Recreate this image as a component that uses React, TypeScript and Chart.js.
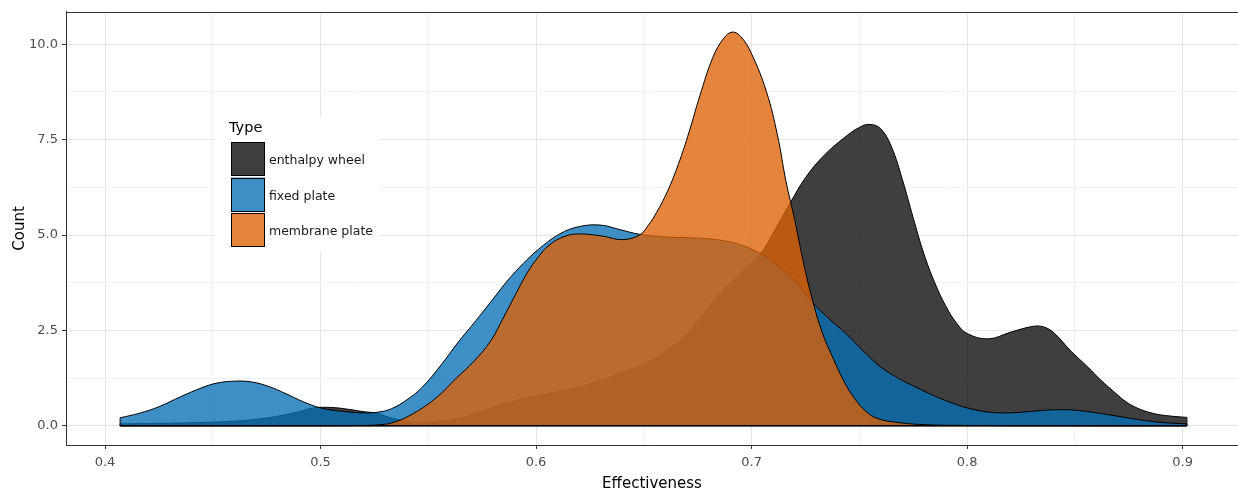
import { useEffect, useRef } from "react";
import { Chart, registerables } from "chart.js";

Chart.register(...registerables);

// Density estimates of effectiveness, one curve per exchanger type
const seriesNames = ["enthalpy wheel", "fixed plate", "membrane plate"];

const enthalpyX = [0.407, 0.42, 0.44, 0.46, 0.47, 0.48, 0.49, 0.497, 0.505, 0.512, 0.52, 0.526, 0.532, 0.54, 0.548, 0.556, 0.565, 0.575, 0.585, 0.595, 0.606, 0.62, 0.63, 0.64, 0.65, 0.66, 0.668, 0.676, 0.685, 0.695, 0.704, 0.71, 0.718, 0.725, 0.733, 0.743, 0.75, 0.755, 0.76, 0.765, 0.77, 0.775, 0.78, 0.785, 0.79, 0.795, 0.8, 0.81, 0.82, 0.83, 0.835, 0.84, 0.848, 0.856, 0.862, 0.868, 0.874, 0.88, 0.886, 0.892, 0.902];
const enthalpyY = [0.05, 0.06, 0.08, 0.12, 0.17, 0.25, 0.37, 0.47, 0.48, 0.44, 0.37, 0.33, 0.22, 0.12, 0.1, 0.13, 0.2, 0.38, 0.58, 0.72, 0.85, 1.02, 1.19, 1.4, 1.62, 1.95, 2.3, 2.8, 3.45, 4.0, 4.5, 5.05, 5.85, 6.5, 7.05, 7.55, 7.82, 7.9, 7.78, 7.3, 6.45, 5.45, 4.5, 3.75, 3.15, 2.7, 2.42, 2.28, 2.45, 2.6, 2.6, 2.45, 1.97, 1.54, 1.2, 0.9, 0.62, 0.44, 0.33, 0.27, 0.22];

const fixedX = [0.407, 0.416, 0.425, 0.435, 0.445, 0.452, 0.46, 0.468, 0.476, 0.484, 0.492, 0.5, 0.51, 0.52, 0.527, 0.533, 0.54, 0.547, 0.556, 0.564, 0.572, 0.58, 0.587, 0.594, 0.601, 0.611, 0.62, 0.63, 0.639, 0.648, 0.66, 0.67, 0.68, 0.69, 0.698, 0.705, 0.712, 0.72, 0.728, 0.736, 0.744, 0.752, 0.76, 0.768, 0.776, 0.785, 0.792, 0.8, 0.81, 0.82, 0.83, 0.84, 0.85, 0.86, 0.87, 0.88, 0.89, 0.902];
const fixedY = [0.21, 0.33, 0.5, 0.76, 1.0, 1.12, 1.17, 1.15, 1.03, 0.84, 0.63, 0.47, 0.38, 0.34, 0.36, 0.45, 0.68, 1.0, 1.6, 2.2, 2.75, 3.32, 3.82, 4.25, 4.62, 5.03, 5.22, 5.26, 5.14, 5.02, 4.95, 4.93, 4.9, 4.82, 4.68, 4.48, 4.2, 3.8, 3.25, 2.8, 2.41, 1.95, 1.54, 1.25, 1.02, 0.78, 0.62, 0.47, 0.36, 0.34, 0.38, 0.42, 0.41, 0.34, 0.25, 0.16, 0.09, 0.05];

const membraneX = [0.407, 0.45, 0.5, 0.52, 0.528, 0.534, 0.543, 0.554, 0.563, 0.571, 0.579, 0.585, 0.591, 0.596, 0.601, 0.606, 0.613, 0.62, 0.631, 0.64, 0.648, 0.652, 0.656, 0.661, 0.666, 0.671, 0.676, 0.682, 0.687, 0.691, 0.695, 0.7, 0.707, 0.712, 0.716, 0.72, 0.724, 0.728, 0.733, 0.738, 0.743, 0.748, 0.753, 0.758, 0.766, 0.78, 0.8, 0.85, 0.902];
const membraneY = [0, 0, 0.003, 0.01, 0.03, 0.09, 0.32, 0.75, 1.25, 1.68, 2.23, 2.85, 3.5, 4.02, 4.42, 4.73, 4.96, 5.03, 4.97, 4.88, 5.0, 5.25, 5.6, 6.15, 6.85, 7.7, 8.65, 9.65, 10.15, 10.32, 10.2, 9.75, 8.74, 7.62, 6.4, 5.4, 4.3, 3.35, 2.41, 1.75, 1.15, 0.7, 0.38, 0.2, 0.1, 0.03, 0.01, 0, 0];

const xMajorTicks = [0.4, 0.5, 0.6, 0.7, 0.8, 0.9];
const xTickLabels = ["0.4", "0.5", "0.6", "0.7", "0.8", "0.9"];
const xMinorTicks = [0.45, 0.55, 0.65, 0.75, 0.85];
const yMajorTicks = [0, 2.5, 5, 7.5, 10];
const yTickLabels = ["0.0", "2.5", "5.0", "7.5", "10.0"];
const yMinorTicks = [1.25, 3.75, 6.25, 8.75];

// Axis limits
const X_MIN = 0.3819;
const X_MAX = 0.9257;
const Y_MIN = -0.503;
const Y_MAX = 10.851;

const FILLS = ["rgba(9,9,9,0.78)", "rgba(6,112,182,0.78)", "rgba(222,97,5,0.78)"];
const FONT = "'DejaVu Sans', 'Liberation Sans', Arial, sans-serif";

const near = (a: number, b: number) => Math.abs(a - b) < 1e-9;
const isMajor = (list: number[], v: number) => list.some((m) => near(m, v));

function gridOptions(major: number[]) {
  return {
    color: (c: any) => (isMajor(major, c.tick?.value) ? "#e6e6e6" : "#f2f2f2"),
    lineWidth: 1,
    tickColor: (c: any) => (isMajor(major, c.tick?.value) ? "#333333" : "rgba(0,0,0,0)"),
    tickLength: 4,
    tickWidth: 1,
  };
}

// Closes each density polygon (baseline and end edges) and draws the top of the panel frame
const outlinePlugin = {
  id: "densityOutline",
  afterDatasetsDraw(chart: any) {
    const { ctx, chartArea, scales } = chart;
    const xs = scales.x;
    const ys = scales.y;
    const zero = ys.getPixelForValue(0);
    ctx.save();
    ctx.strokeStyle = "#000";
    ctx.lineWidth = 1;
    chart.data.datasets.forEach((ds: any) => {
      const pts = ds.data;
      const first = pts[0];
      const last = pts[pts.length - 1];
      ctx.beginPath();
      ctx.moveTo(xs.getPixelForValue(first.x), ys.getPixelForValue(first.y));
      ctx.lineTo(xs.getPixelForValue(first.x), zero);
      ctx.lineTo(xs.getPixelForValue(last.x), zero);
      ctx.lineTo(xs.getPixelForValue(last.x), ys.getPixelForValue(last.y));
      ctx.stroke();
    });
    ctx.strokeStyle = "#333333";
    ctx.beginPath();
    ctx.moveTo(chartArea.left, Math.round(chartArea.top) + 0.5);
    ctx.lineTo(chartArea.right, Math.round(chartArea.top) + 0.5);
    ctx.stroke();
    ctx.restore();
  },
};

// Axis titles and the "Type" legend inside the panel
const labelsPlugin = {
  id: "typeLegend",
  afterDraw(chart: any) {
    const { ctx, chartArea } = chart;
    ctx.save();
    ctx.fillStyle = "#000";
    ctx.font = `15px ${FONT}`;
    ctx.textAlign = "center";
    ctx.textBaseline = "alphabetic";
    ctx.fillText("Effectiveness", (chartArea.left + chartArea.right) / 2, 488);
    ctx.save();
    ctx.translate(24, (chartArea.top + chartArea.bottom) / 2);
    ctx.rotate(-Math.PI / 2);
    ctx.fillText("Count", 0, 0);
    ctx.restore();

    ctx.fillStyle = "#ffffff";
    ctx.fillRect(214, 117, 166, 135);
    ctx.fillStyle = "#000";
    ctx.textAlign = "left";
    ctx.textBaseline = "middle";
    ctx.font = `14.5px ${FONT}`;
    ctx.fillText("Type", 229, 128);
    chart.data.datasets.forEach((ds: any, i: number) => {
      const top = 142 + i * 35.5;
      ctx.fillStyle = ds.backgroundColor;
      ctx.fillRect(231, top, 34, 34);
      ctx.strokeStyle = "#000";
      ctx.lineWidth = 1;
      ctx.strokeRect(231.5, Math.round(top) + 0.5, 33, 33);
      ctx.fillStyle = "#1a1a1a";
      ctx.font = `12.5px ${FONT}`;
      ctx.fillText(ds.label, 269, top + 19);
    });
    ctx.restore();
  },
};

export default function App() {
  const canvasRef = useRef<HTMLCanvasElement | null>(null);

  useEffect(() => {
    document.body.style.margin = "0";
    const canvas = canvasRef.current;
    if (!canvas) return;

    const series = [
      { xs: enthalpyX, ys: enthalpyY },
      { xs: fixedX, ys: fixedY },
      { xs: membraneX, ys: membraneY },
    ];

    const chart = new Chart(canvas, {
      type: "line",
      data: {
        datasets: series.map((s, i) => ({
          label: seriesNames[i],
          data: s.xs.map((x, j) => ({ x, y: s.ys[j] })),
          backgroundColor: FILLS[i],
          borderColor: "#000000",
          borderWidth: 1,
          fill: "origin",
          pointRadius: 0,
          tension: 0.4,
          order: 3 - i,
        })),
      },
      options: {
        animation: false,
        responsive: false,
        events: [],
        layout: { padding: { top: 9, left: 0, right: 0, bottom: 0 } },
        plugins: {
          legend: { display: false },
          tooltip: { enabled: false },
        },
        scales: {
          x: {
            type: "linear",
            min: X_MIN,
            max: X_MAX,
            afterBuildTicks: (scale: any) => {
              scale.ticks = [...xMajorTicks, ...xMinorTicks]
                .sort((a, b) => a - b)
                .map((value) => ({ value }));
            },
            afterFit: (scale: any) => {
              scale.height = 46;
            },
            ticks: {
              autoSkip: false,
              maxRotation: 0,
              padding: 6,
              color: "#4d4d4d",
              font: { family: FONT, size: 13 },
              callback: (value: any) => {
                const i = xMajorTicks.findIndex((m) => near(m, Number(value)));
                return i >= 0 ? xTickLabels[i] : "";
              },
            },
            grid: gridOptions(xMajorTicks),
            border: { display: true, color: "#333333", width: 1 },
          },
          y: {
            type: "linear",
            min: Y_MIN,
            max: Y_MAX,
            afterBuildTicks: (scale: any) => {
              scale.ticks = [...yMajorTicks, ...yMinorTicks]
                .sort((a, b) => a - b)
                .map((value) => ({ value }));
            },
            afterFit: (scale: any) => {
              scale.width = 66;
            },
            ticks: {
              autoSkip: false,
              padding: 4,
              color: "#4d4d4d",
              font: { family: FONT, size: 13 },
              callback: (value: any) => {
                const i = yMajorTicks.findIndex((m) => near(m, Number(value)));
                return i >= 0 ? yTickLabels[i] : "";
              },
            },
            grid: gridOptions(yMajorTicks),
            border: { display: true, color: "#333333", width: 1 },
          },
        },
      },
      plugins: [outlinePlugin, labelsPlugin],
    });

    return () => chart.destroy();
  }, []);

  return (
    <div style={{ width: 1238, height: 491, overflow: "hidden", background: "#ffffff" }}>
      <canvas ref={canvasRef} width={1238} height={491} style={{ display: "block" }} />
    </div>
  );
}
